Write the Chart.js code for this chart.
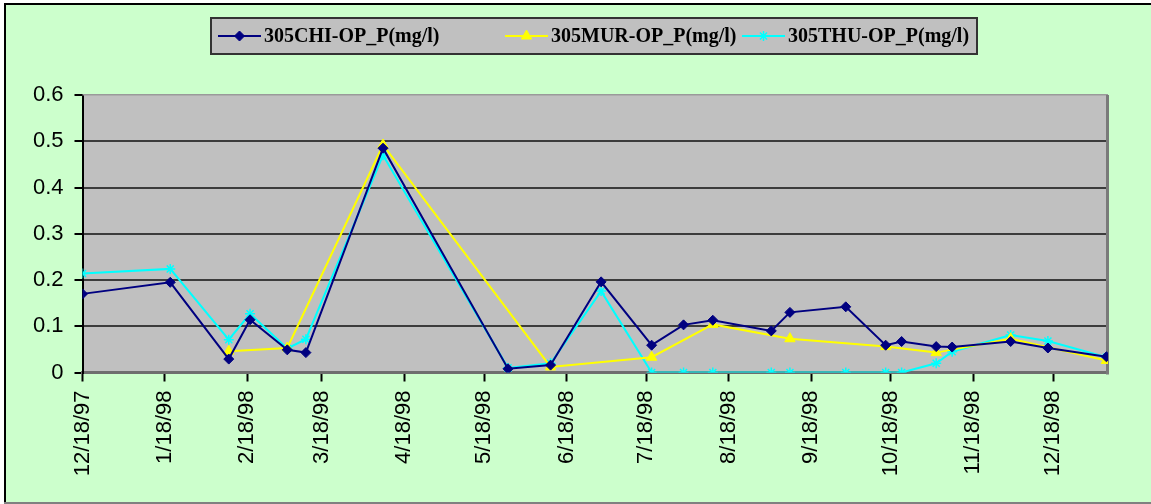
<!DOCTYPE html>
<html>
<head>
<meta charset="utf-8">
<style>
  html, body { margin: 0; padding: 0; background: #ffffff; }
  canvas { display: block; }
</style>
<script src="https://cdn.jsdelivr.net/npm/chart.js@4.4.1/dist/chart.umd.min.js"></script>
</head>
<body>
<canvas id="c" width="1151" height="504"></canvas>
<script>
// ---- Data ----
const originDate = '1997-12-18';
const axisEndDate = '1999-01-07';

const tickDates = ['1997-12-18','1998-01-18','1998-02-18','1998-03-18','1998-04-18','1998-05-18',
                   '1998-06-18','1998-07-18','1998-08-18','1998-09-18','1998-10-18','1998-11-18','1998-12-18'];
const tickLabels = ['12/18/97','1/18/98','2/18/98','3/18/98','4/18/98','5/18/98',
                    '6/18/98','7/18/98','8/18/98','9/18/98','10/18/98','11/18/98','12/18/98'];

const seriesLabels = ['305CHI-OP_P(mg/l)', '305MUR-OP_P(mg/l)', '305THU-OP_P(mg/l)'];

const chiDates = ['1997-12-18','1998-01-20','1998-02-11','1998-02-19','1998-03-05','1998-03-12','1998-04-10',
                  '1998-05-27','1998-06-12','1998-07-01','1998-07-20','1998-08-01','1998-08-12','1998-09-03',
                  '1998-09-10','1998-10-01','1998-10-16','1998-10-22','1998-11-04','1998-11-10','1998-12-02',
                  '1998-12-16','1999-01-07'];
const chiValues = [0.170, 0.195, 0.029, 0.114, 0.049, 0.043, 0.485,
                   0.008, 0.016, 0.196, 0.059, 0.103, 0.113, 0.090,
                   0.130, 0.142, 0.059, 0.067, 0.056, 0.055, 0.067,
                   0.053, 0.034];

const murDates = ['1998-02-11','1998-03-05','1998-04-10','1998-06-12','1998-07-20','1998-08-12',
                  '1998-09-10','1998-10-16','1998-11-04','1998-12-02','1999-01-07'];
const murValues = [0.046, 0.053, 0.492, 0.012, 0.033, 0.104,
                   0.073, 0.056, 0.043, 0.073, 0.026];

const thuDates = ['1997-12-18','1998-01-20','1998-02-11','1998-02-19','1998-03-05','1998-03-12','1998-04-10',
                  '1998-05-27','1998-06-12','1998-07-01','1998-07-20','1998-08-01','1998-08-12','1998-09-03',
                  '1998-09-10','1998-10-01','1998-10-16','1998-10-22','1998-11-04','1998-11-10','1998-12-02',
                  '1998-12-16','1999-01-07'];
const thuValues = [0.214, 0.224, 0.071, 0.127, 0.052, 0.072, 0.470,
                   0.010, 0.020, 0.176, 0.000, 0.000, 0.000, 0.000,
                   0.000, 0.000, 0.000, 0.000, 0.020, 0.045, 0.081,
                   0.068, 0.033];

// ---- helpers ----
const DAY = 86400000;
const dayOf = d => (Date.parse(d) - Date.parse(originDate)) / DAY;
const toPoints = (dates, vals) => dates.map((d, i) => ({ x: dayOf(d), y: vals[i] }));
const tickDays = tickDates.map(dayOf);

// ---- plugins ----
const backgroundPlugin = {
  id: 'bg',
  beforeDraw(chart) {
    const ctx = chart.ctx, a = chart.chartArea;
    ctx.save();
    ctx.fillStyle = '#ffffff';
    ctx.fillRect(0, 0, chart.width, chart.height);
    ctx.fillStyle = '#CCFFCC';
    ctx.fillRect(4, 3, chart.width - 4, chart.height - 4);
    ctx.fillStyle = '#000000';
    ctx.fillRect(4, 3, 2, chart.height - 4);
    ctx.fillRect(4, 3, chart.width - 4, 2);
    ctx.fillStyle = '#808080';
    ctx.fillRect(4, chart.height - 2, chart.width - 4, 2);
    ctx.fillStyle = '#C0C0C0';
    ctx.fillRect(a.left, a.top, a.right - a.left, a.bottom - a.top);
    ctx.restore();
  },
  beforeDatasetsDraw(chart) {
    const ctx = chart.ctx, a = chart.chartArea;
    ctx.save();
    ctx.fillStyle = '#9a9a9a';
    ctx.fillRect(a.left, a.top - 1, a.right - a.left, 1.5);
    ctx.fillStyle = '#7a7a7a';
    ctx.fillRect(a.right - 2, a.top, 3, a.bottom - a.top + 2);
    ctx.restore();
  }
};

const legendPlugin = {
  id: 'customLegend',
  afterDraw(chart) {
    const ctx = chart.ctx;
    const o = chart.options.plugins.customLegend;
    ctx.save();
    ctx.fillStyle = '#C0C0C0';
    ctx.fillRect(o.left, o.top, o.width, o.height);
    ctx.strokeStyle = '#333333';
    ctx.lineWidth = 2;
    ctx.strokeRect(o.left, o.top, o.width, o.height);
    const cy = o.top + o.height / 2;
    chart.data.datasets.forEach((ds, i) => {
      const x0 = o.itemX[i];
      ctx.save();
      ctx.strokeStyle = ds.borderColor;
      ctx.lineWidth = 2;
      ctx.beginPath();
      ctx.moveTo(x0, cy);
      ctx.lineTo(x0 + o.lineLen, cy);
      ctx.stroke();
      ctx.fillStyle = ds.pointBackgroundColor;
      ctx.strokeStyle = ds.pointBorderColor;
      ctx.lineWidth = ds.pointBorderWidth || 1;
      Chart.helpers.drawPoint(ctx, {
        pointStyle: ds.pointStyle,
        radius: ds.pointRadius,
        borderWidth: ds.pointBorderWidth || 1
      }, x0 + o.lineLen / 2, cy);
      ctx.restore();
      ctx.fillStyle = '#000000';
      ctx.font = 'bold 20px "Liberation Serif", "Times New Roman", serif';
      ctx.textBaseline = 'middle';
      ctx.textAlign = 'left';
      ctx.fillText(ds.label, x0 + o.lineLen + 3, cy + 1);
    });
    ctx.restore();
  }
};

// ---- chart ----
new Chart(document.getElementById('c'), {
  type: 'line',
  data: {
    datasets: [
      {
        label: seriesLabels[0],
        data: toPoints(chiDates, chiValues),
        borderColor: '#000080', backgroundColor: '#000080',
        borderWidth: 2,
        pointStyle: 'rectRot', pointRadius: 5,
        pointBackgroundColor: '#000080', pointBorderColor: '#000080', pointBorderWidth: 1
      },
      {
        label: seriesLabels[1],
        data: toPoints(murDates, murValues),
        borderColor: '#FFFF00', backgroundColor: '#FFFF00',
        borderWidth: 2,
        pointStyle: 'triangle', pointRadius: 6,
        pointBackgroundColor: '#FFFF00', pointBorderColor: '#FFFF00', pointBorderWidth: 1
      },
      {
        label: seriesLabels[2],
        data: toPoints(thuDates, thuValues),
        borderColor: '#00FFFF', backgroundColor: '#00FFFF',
        borderWidth: 2,
        pointStyle: 'star', pointRadius: 5,
        pointBackgroundColor: '#00FFFF', pointBorderColor: '#00FFFF', pointBorderWidth: 1.5
      }
    ]
  },
  options: {
    responsive: false,
    animation: false,
    layout: { padding: { left: 0, right: 43, top: 95, bottom: 0 } },
    plugins: {
      legend: { display: false },
      tooltip: { enabled: false },
      customLegend: { left: 211, top: 18, width: 766, height: 36, itemX: [218, 505, 742], lineLen: 43 }
    },
    elements: { line: { tension: 0 } },
    scales: {
      x: {
        type: 'linear',
        min: 0,
        max: dayOf(axisEndDate) + 0.6,
        afterBuildTicks(scale) { scale.ticks = tickDays.map(v => ({ value: v })); },
        afterFit(scale) { scale.height = 131.5; },
        ticks: {
          autoSkip: false,
          minRotation: 90, maxRotation: 90,
          padding: 9,
          color: '#000000',
          font: { family: '"Liberation Sans", Arial, sans-serif', size: 22 },
          callback: (value, index) => tickLabels[index]
        },
        grid: { drawOnChartArea: false, drawTicks: true, tickLength: 9, tickColor: '#000000', tickWidth: 2, color: '#000000' },
        border: { display: true, color: '#6e6e6e', width: 3 }
      },
      y: {
        min: 0, max: 0.6,
        afterFit(scale) { scale.width = 82.5; },
        ticks: {
          stepSize: 0.1,
          padding: 11,
          color: '#000000',
          font: { family: '"Liberation Sans", Arial, sans-serif', size: 22 }
        },
        grid: {
          drawTicks: true, tickLength: 8, tickColor: '#000000', tickWidth: 2,
          color: ctx => (ctx.tick && (ctx.tick.value === 0 || Math.abs(ctx.tick.value - 0.6) < 1e-9)) ? 'rgba(0,0,0,0)' : '#3c3c3c',
          lineWidth: 2
        },
        border: { display: true, color: '#000000', width: 2 }
      }
    }
  },
  plugins: [backgroundPlugin, legendPlugin]
});
</script>
</body>
</html>
